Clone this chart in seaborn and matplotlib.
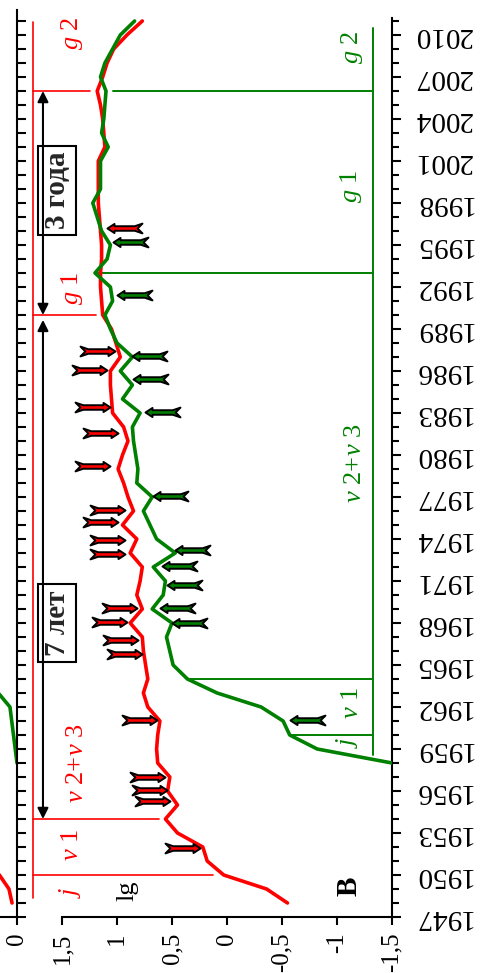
import numpy as np
import matplotlib
matplotlib.use("Agg")
import matplotlib.pyplot as plt
from matplotlib.path import Path
from matplotlib.ticker import FixedLocator, MultipleLocator, FixedFormatter
import seaborn as sns

# ---------------- data ----------------
years_red = list(range(1948, 2012))
red_lg = [-0.55, -0.36, 0.03, 0.18, 0.22, 0.45, 0.56, 0.45, 0.54, 0.52,   # 1948-1957
          0.63, 0.64, 0.63, 0.61, 0.72, 0.76, 0.72, 0.74, 0.76, 0.77,     # 1958-1967
          0.88, 0.77, 0.82, 0.79, 0.77, 0.88, 0.82, 0.95, 0.85, 0.90,     # 1968-1977
          0.94, 0.99, 0.95, 0.90, 0.94, 1.04, 1.05, 1.06, 1.06, 0.97,     # 1978-1987
          1.01, 1.05, 1.13, 1.14, 1.15, 1.15, 1.14, 1.14, 1.15, 1.16,     # 1988-1997
          1.17, 1.17, 1.17, 1.17, 1.11, 1.12, 1.13, 1.15, 1.18, 1.13,     # 1998-2007
          1.09, 1.03, 0.91, 0.77]                                         # 2008-2011

years_green = list(range(1958, 2012))
green_lg = [-1.50, -0.82, -0.57, -0.51, -0.31, 0.09, 0.36, 0.49, 0.52, 0.55,  # 1958-1967
            0.50, 0.68, 0.58, 0.56, 0.67, 0.47, 0.64, 0.70, 0.76, 0.68,       # 1968-1977
            0.82, 0.81, 0.83, 0.85, 0.86, 0.79, 0.95, 0.86, 0.97, 0.86,       # 1978-1987
            1.00, 1.06, 1.11, 1.04, 1.06, 1.20, 1.09, 1.06, 1.14, 1.18,       # 1988-1997
            1.22, 1.15, 1.15, 1.15, 1.08, 1.14, 1.12, 1.11, 1.10, 1.15,       # 1998-2007
            1.11, 1.04, 0.97, 0.84]                                           # 2008-2011

# event marks: year and the value the arrow tip points at
red_mark_years = [1951.9, 1955.3, 1956.1, 1957.0, 1961.1, 1965.8, 1966.8, 1968.05,
                  1969.1, 1972.9, 1973.9, 1975.2, 1976.07, 1979.2, 1981.55, 1983.45,
                  1986.1, 1987.4]
red_mark_vals = [0.245, 0.518, 0.548, 0.564, 0.639, 0.776, 0.806, 0.912,
                 0.821, 0.927, 0.927, 0.988, 0.927, 1.064, 0.988, 1.064,
                 1.094, 1.018]
red_mark_years_up = [1996.2]
red_mark_vals_up = [1.094]

green_mark_years = [1961.1, 1968.0, 1969.1, 1970.7, 1972.07, 1973.2, 1977.1,
                    1983.05, 1985.4, 1987.07, 1991.4, 1995.2]
green_mark_vals = [-0.573, 0.503, 0.609, 0.548, 0.594, 0.473, 0.67,
                   0.745, 0.852, 0.867, 1.003, 1.033]

# stage boundaries (years)
red_stage_years = [1950, 1954, 1990, 2006]
red_stage_ends = [0.127, 0.62, 1.19, 1.245]
green_stage_years = [1960, 1964, 1993, 2006]
green_stage_ends = [-0.57, 0.36, 1.20, 1.036]

# adjacent panel (only its right edge is visible)
nb_red_years = [1948, 1949, 1950, 1951]
nb_red_vals = [0.045, 0.073, 0.16, 0.35]
nb_green_years = [1958, 1962, 1963, 1964]
nb_green_vals = [0.0, 0.064, 0.17, 0.30]

value_ticks = [1.5, 1.0, 0.5, 0.0, -0.5, -1.0, -1.5]
value_labels = ["1,5", "1", "0,5", "0", "-0,5", "-1", "-1,5"]
year_ticks = list(range(1947, 2011, 3))

RED = "#ff0000"
GREEN = "#008000"

# ---------------- style ----------------
sns.set_theme(style="white")
plt.rcParams["font.family"] = ["Liberation Serif", "DejaVu Serif"]
plt.rcParams["mathtext.fontset"] = "custom"
plt.rcParams["mathtext.rm"] = "Liberation Serif"
plt.rcParams["mathtext.it"] = "Liberation Serif:italic"
plt.rcParams["mathtext.bf"] = "Liberation Serif:bold"

W, H = 486, 973
fig = plt.figure(figsize=(W / 100, H / 100), dpi=100)
fig.patch.set_facecolor("white")


def fx(px):
    return px / W


def fy(py):
    return 1 - py / H


PX_PER_YEAR = 14.0
PX_PER_UNIT = 110.0

# ---------------- adjacent panel ----------------
axn = fig.add_axes([fx(-203), fy(917), fx(17) - fx(-203), fy(10) - fy(917)])
axn.set_facecolor("none")
axn.set_xlim(220 / PX_PER_UNIT, 0)
axn.set_ylim(1947, 1947 + 907 / PX_PER_YEAR)
sns.lineplot(x=nb_red_vals, y=nb_red_years, orient="y", sort=False, estimator=None,
             color=RED, lw=2.6, ax=axn)
sns.lineplot(x=nb_green_vals, y=nb_green_years, orient="y", sort=False, estimator=None,
             color=GREEN, lw=2.6, ax=axn)
for s in ["left", "top"]:
    axn.spines[s].set_visible(False)
for s in ["right", "bottom"]:
    axn.spines[s].set_color("black")
    axn.spines[s].set_linewidth(1.5)
axn.xaxis.set_major_locator(FixedLocator([0]))
axn.xaxis.set_major_formatter(FixedFormatter(["0"]))
axn.yaxis.set_major_locator(MultipleLocator(1))
axn.tick_params(axis="x", bottom=True, direction="out", length=6, width=1.5,
                labelsize=18, labelrotation=90, pad=5, colors="black")
axn.tick_params(axis="y", left=False, right=True, labelleft=False, labelright=False,
                direction="out", length=6.5, width=1.5, colors="black")
axn.set_xlabel("")
axn.set_ylabel("")
axn.grid(False)

# ---------------- main panel ----------------
ax = fig.add_axes([fx(18), fy(917), fx(392) - fx(18), fy(18) - fy(917)])
ax.set_facecolor("none")
ax.set_xlim((227 - 18) / PX_PER_UNIT, -1.5)
ax.set_ylim(1947, 1947 + 899 / PX_PER_YEAR)

sns.lineplot(x=red_lg, y=years_red, orient="y", sort=False, estimator=None,
             color=RED, lw=2.6, ax=ax, zorder=3)
sns.lineplot(x=green_lg, y=years_green, orient="y", sort=False, estimator=None,
             color=GREEN, lw=2.6, ax=ax, zorder=3)


def arrow_marker(direction):
    # tip at the origin, fletched tail one unit behind it (screen direction)
    pts = np.array([(0.0, 0.0), (-0.20, 0.13), (-0.20, 0.065), (-0.78, 0.065),
                    (-1.0, 0.14), (-0.86, 0.0), (-1.0, -0.14), (-0.78, -0.065),
                    (-0.20, -0.065), (-0.20, -0.13), (0.0, 0.0)])
    pts[:, 0] *= direction
    codes = [Path.MOVETO] + [Path.LINETO] * (len(pts) - 2) + [Path.CLOSEPOLY]
    return Path(pts, codes)


MARK_S = 2540
sns.scatterplot(x=red_mark_vals, y=red_mark_years, marker=arrow_marker(1), s=MARK_S,
                color=RED, edgecolor="black", linewidth=1.4, ax=ax, zorder=4)
sns.scatterplot(x=red_mark_vals_up, y=red_mark_years_up, marker=arrow_marker(-1), s=MARK_S,
                color=RED, edgecolor="black", linewidth=1.4, ax=ax, zorder=4)
sns.scatterplot(x=green_mark_vals, y=green_mark_years, marker=arrow_marker(-1), s=MARK_S,
                color=GREEN, edgecolor="black", linewidth=1.4, ax=ax, zorder=4)

# stage boundaries
red_x0 = 1.76
ax.plot([red_x0, red_x0], [1948.36, 2010.9], color=RED, lw=1.2, zorder=2)
for yr, xe in zip(red_stage_years, red_stage_ends):
    ax.plot([red_x0, xe], [yr, yr], color=RED, lw=1.2, zorder=2)

green_x0 = -1.327
ax.plot([green_x0, green_x0], [1958.6, 2010.5], color=GREEN, lw=1.4, zorder=2)
for yr, xe in zip(green_stage_years, green_stage_ends):
    ax.plot([xe, green_x0], [yr, yr], color=GREEN, lw=1.4, zorder=2)

# duration arrows
arrow_x = 1.673
for y_a, y_b in [(2006.0, 1990.0), (1989.65, 1954.0)]:
    ax.annotate("", xy=(arrow_x, y_b), xytext=(arrow_x, y_a),
                arrowprops=dict(arrowstyle="<|-|>", color="black", lw=1.5,
                                mutation_scale=16, shrinkA=0, shrinkB=0), zorder=3)

box = dict(boxstyle="square,pad=0.2", fc="none", ec="black", lw=1.5)
ax.text(1.545, 1998.9, "3 года", rotation=90, ha="center", va="center",
        fontsize=21, fontweight="bold", bbox=box, zorder=5)
ax.text(1.545, 1968.0, "7 лет", rotation=90, ha="center", va="center",
        fontsize=21, fontweight="bold", bbox=box, zorder=5)

# stage names
txt = dict(rotation=90, ha="center", va="center", fontsize=19)
ax.text(1.409, 2010.1, r"$g\ 2$", color=RED, **txt)
ax.text(1.409, 1991.9, r"$g\ 1$", color=RED, **txt)
ax.text(1.364, 1958.0, r"$\nu\ 2\!+\!\nu\ 3$", color=RED, **txt)
ax.text(1.409, 1952.1, r"$\nu\ 1$", color=RED, **txt)
ax.text(1.427, 1948.8, r"$j$", color=RED, **txt)

ax.text(-1.136, 2009.1, r"$g\ 2$", color=GREEN, **txt)
ax.text(-1.127, 1999.2, r"$g\ 1$", color=GREEN, **txt)
ax.text(-1.164, 1979.4, r"$\nu\ 2\!+\!\nu\ 3$", color=GREEN, **txt)
ax.text(-1.136, 1962.3, r"$\nu\ 1$", color=GREEN, **txt)
ax.text(-1.091, 1959.5, r"$j$", color=GREEN, **txt)

ax.text(0.909, 1948.9, "lg", color="black", **txt)
ax.text(-1.109, 1949.2, "В", rotation=90, ha="center", va="center",
        fontsize=21, fontweight="bold", color="black")

# axes
for s in ["left", "top"]:
    ax.spines[s].set_visible(False)
for s in ["right", "bottom"]:
    ax.spines[s].set_color("black")
    ax.spines[s].set_linewidth(1.5)
ax.spines["bottom"].set_bounds(-1.5, 1.5)

ax.xaxis.set_major_locator(FixedLocator(value_ticks))
ax.xaxis.set_major_formatter(FixedFormatter(value_labels))
ax.tick_params(axis="x", bottom=True, top=False, direction="out", length=6, width=1.5,
               labelsize=18, labelrotation=90, pad=5, colors="black")

ax.yaxis.set_major_locator(FixedLocator(year_ticks))
ax.yaxis.set_major_formatter(FixedFormatter([str(y) for y in year_ticks]))
ax.yaxis.set_minor_locator(MultipleLocator(1))
ax.tick_params(axis="y", which="both", left=False, right=True, labelleft=False,
               labelright=True, direction="out", width=1.5, colors="black")
ax.tick_params(axis="y", which="major", length=6.5, labelsize=21, labelrotation=180, pad=9)
ax.tick_params(axis="y", which="minor", length=5)
for lab in ax.get_yticklabels():
    lab.set_va("center")

ax.set_xlabel("")
ax.set_ylabel("")
ax.grid(False)

fig.savefig("out.png", dpi=100, facecolor="white")
